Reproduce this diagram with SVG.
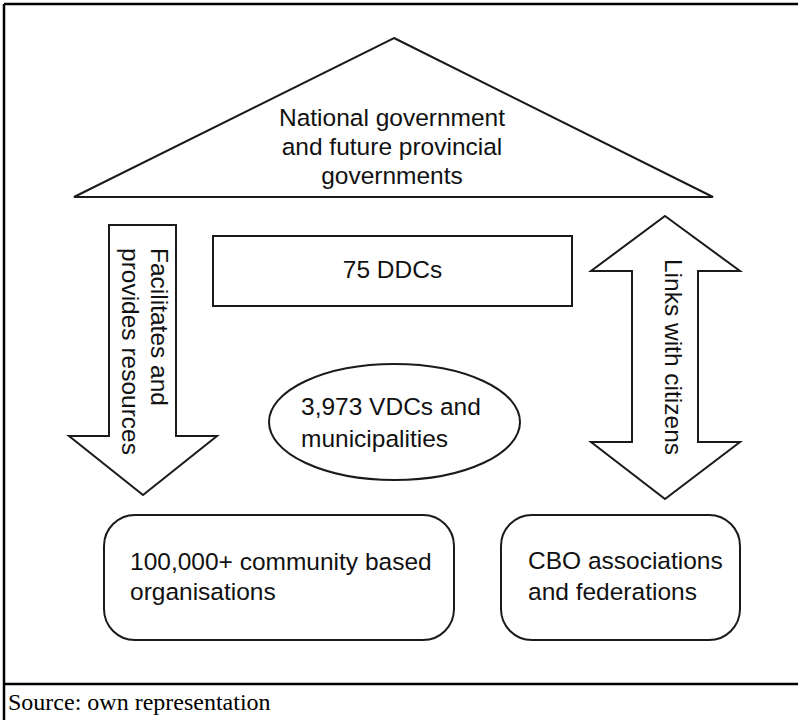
<svg xmlns="http://www.w3.org/2000/svg" width="798" height="720" viewBox="0 0 798 720">
<style>
.shape{fill:#fff;stroke:#1a1a1a;stroke-width:2;stroke-linejoin:miter}
.lbl{font-family:"Liberation Sans",Arial,sans-serif;font-size:24.5px;fill:#111}
.frame{fill:none;stroke:#000;stroke-width:2.5}
.src{font-family:"Liberation Serif","Times New Roman",serif;font-size:24px;fill:#000}
</style>
<rect width="798" height="720" fill="#fff"/>
<g id="frame">
<line class="frame" x1="4" y1="4" x2="798" y2="4"/>
<line class="frame" x1="4" y1="4" x2="4" y2="720"/>
<line class="frame" x1="4" y1="684" x2="798" y2="684"/>
</g>
<g id="national">
<polygon class="shape" points="394,38 713,197 74,197"/>
<text class="lbl" text-anchor="middle"><tspan x="392" y="126">National government</tspan><tspan x="392" y="155">and future provincial</tspan><tspan x="392" y="184">governments</tspan></text>
</g>
<g id="ddcs">
<rect class="shape" x="213" y="236" width="359" height="70"/>
<text class="lbl" x="392.5" y="278" text-anchor="middle">75 DDCs</text>
</g>
<g id="vdcs">
<ellipse class="shape" cx="394.5" cy="422" rx="125.5" ry="58"/>
<text class="lbl"><tspan x="301" y="415">3,973 VDCs and</tspan><tspan x="301" y="447">municipalities</tspan></text>
</g>
<g id="cbos">
<rect class="shape" x="104" y="515" width="350" height="125" rx="31" ry="31"/>
<text class="lbl"><tspan x="130" y="570">100,000+ community based</tspan><tspan x="130" y="600">organisations</tspan></text>
</g>
<g id="federations">
<rect class="shape" x="501" y="515" width="239" height="125" rx="31" ry="31"/>
<text class="lbl"><tspan x="528" y="569">CBO associations</tspan><tspan x="528" y="600">and federations</tspan></text>
</g>
<g id="connectors">
<g id="facilitates">
<polygon class="shape" points="109,225 176,225 176,436 217,436 143,495 69,436 109,436"/>
<text class="lbl" transform="translate(151,248) rotate(90)"><tspan x="0" y="0">Facilitates and</tspan><tspan x="0" y="29">provides resources</tspan></text>
</g>
<g id="links">
<polygon class="shape" points="665,216 740,271 698,271 698,442 740,442 665,499 591,442 632,442 632,271 591,271"/>
<text class="lbl" transform="translate(665,357) rotate(90)" text-anchor="middle">Links with citizens</text>
</g>
</g>
<text class="src" x="8" y="710">Source: own representation</text>
</svg>
